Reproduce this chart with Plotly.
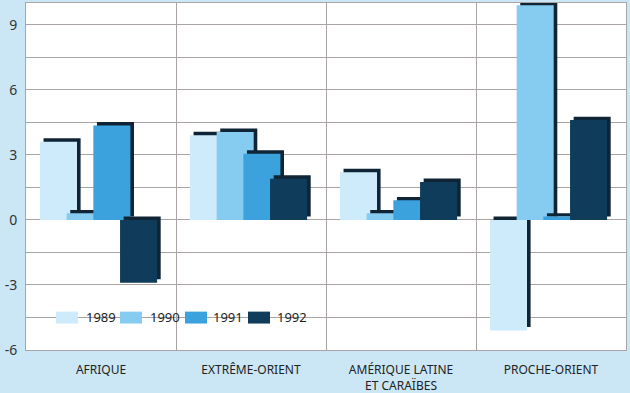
import plotly.graph_objects as go

regions = ["AFRIQUE", "EXTRÊME-ORIENT", "AMÉRIQUE LATINE<br>ET CARAÏBES", "PROCHE-ORIENT"]
years = ["1989", "1990", "1991", "1992"]
v1989 = [3.6, 3.9, 2.2, -5.1]
v1990 = [0.3, 4.05, 0.3, 9.9]
v1991 = [4.35, 3.05, 0.9, 0.15]
v1992 = [-2.9, 1.9, 1.75, 4.6]
series = [v1989, v1990, v1991, v1992]
y_tickvals = [-6, -3, 0, 3, 6, 9]
y_ticktext = ["-6", "-3", "0", "3", "6", "9"]

colors = ["#cdebfa", "#86cbf0", "#3ba2de", "#0e3c5a"]
shadow_color = "#0f2535"
offsets = [-0.407, -0.229, -0.051, 0.127]
bar_w = 0.247
sdx = 0.024
sdy = 0.16

xs = list(range(len(regions)))
fig = go.Figure()
for i, vals in enumerate(series):
    fig.add_trace(go.Bar(x=xs, y=vals, base=[sdy] * len(vals), offset=offsets[i] + sdx,
                         width=bar_w, marker=dict(color=shadow_color, line=dict(width=0)),
                         showlegend=False, hoverinfo="skip"))
    fig.add_trace(go.Bar(x=xs, y=vals, offset=offsets[i], width=bar_w, name=years[i],
                         marker=dict(color=colors[i], line=dict(width=0)), showlegend=False))

grid = "#aaa4a4"
fig.update_layout(
    width=630, height=393,
    margin=dict(l=26, r=4, t=3, b=43, autoexpand=False),
    paper_bgcolor="#cbe7f6", plot_bgcolor="white",
    barmode="overlay",
    font=dict(family="Noto Sans, DejaVu Sans, sans-serif", color="#222"),
    xaxis=dict(range=[-0.5, 3.5], tickvals=xs, ticktext=regions, showgrid=False, automargin=False,
               zeroline=False, showline=True, mirror=True, linecolor=grid, linewidth=1,
               ticks="", tickfont=dict(size=12, color="#222"), ticklabelstandoff=9,
               minor=dict(tickvals=[0.5, 1.5, 2.5], showgrid=True, gridcolor=grid, gridwidth=1, ticks="")),
    yaxis=dict(range=[-6, 10], tickvals=y_tickvals, ticktext=y_ticktext, showgrid=True, automargin=False,
               gridcolor=grid, gridwidth=1, zeroline=False, showline=True, mirror=True,
               linecolor=grid, linewidth=1, ticks="", tickfont=dict(size=14, color="#333"),
               ticklabelstandoff=5,
               minor=dict(dtick=1.5, tick0=0, showgrid=True, gridcolor=grid, gridwidth=1, ticks="")),
)

# legend drawn on the -4.5 grid line
sw_px = [56, 120, 185, 248]
lab_px = [86, 150, 213, 277]
for i, y in enumerate(years):
    x0 = (sw_px[i] - 26) / 600
    x1 = (sw_px[i] + 22 - 26) / 600
    fig.add_shape(type="rect", xref="paper", yref="y", x0=x0, x1=x1, y0=-4.78, y1=-4.23,
                  fillcolor=colors[i], line=dict(width=0), layer="above")
    fig.add_annotation(xref="paper", yref="y", x=(lab_px[i] - 26) / 600, y=-4.5, text=y,
                       showarrow=False, xanchor="left", yanchor="middle",
                       font=dict(size=13, color="#222"), xshift=-2)

fig.write_html("out.html", config={"displayModeBar": False},
               post_script="document.body.style.margin='0';document.body.style.overflow='hidden';")
